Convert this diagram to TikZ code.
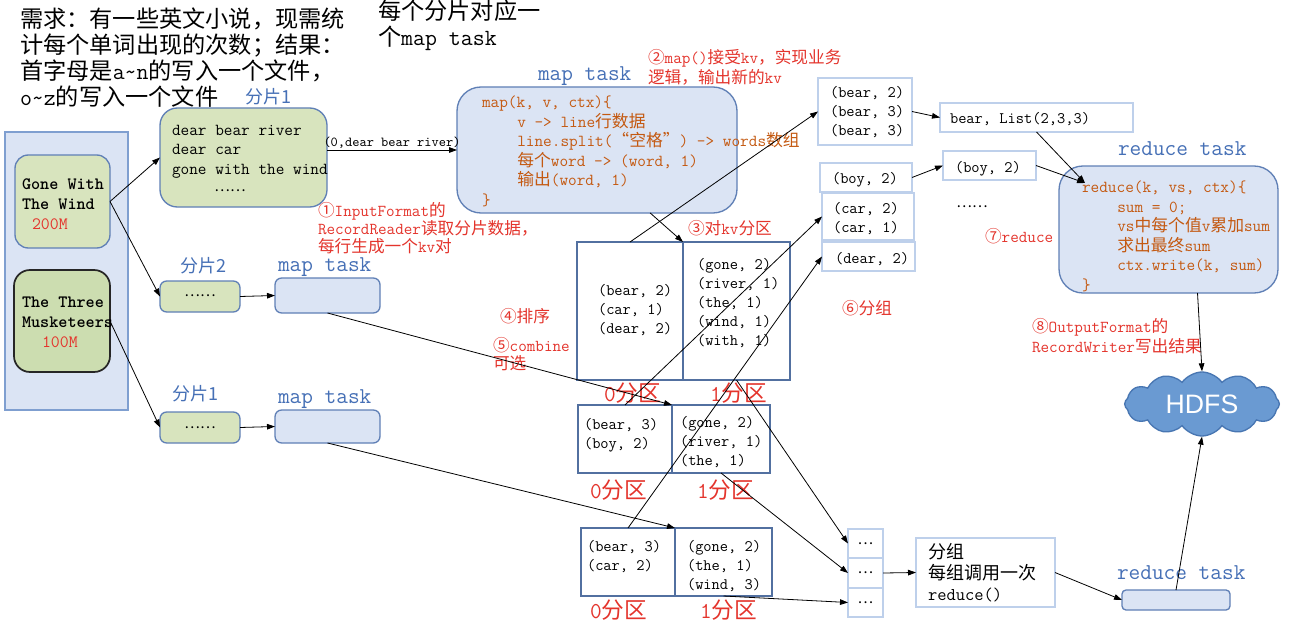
\documentclass[tikz,border=0pt]{standalone}
\usepackage{fontspec}
\newfontfamily\cjk{Noto Sans CJK SC}
\newfontfamily\hdfsfont{Liberation Sans}
\usetikzlibrary{arrows.meta,fit,shapes.symbols,calc}
\newcommand\zh[1]{{\cjk #1}}
\newcommand\ind{\hspace*{2.1em}}
\definecolor{lblue}{RGB}{70,112,182}
\definecolor{redc}{RGB}{228,52,44}
\definecolor{codec}{RGB}{196,89,17}
\definecolor{boxfill}{RGB}{219,228,244}
\definecolor{boxdraw}{RGB}{96,128,182}
\definecolor{contdraw}{RGB}{127,159,208}
\definecolor{greenfill}{RGB}{216,228,190}
\definecolor{greendark}{RGB}{204,221,176}
\definecolor{partdraw}{RGB}{82,112,160}
\definecolor{grpdraw}{RGB}{190,208,235}
\definecolor{cloudfill}{RGB}{106,154,210}
\definecolor{clouddraw}{RGB}{72,118,178}
\begin{document}
\begin{tikzpicture}[x=0.75pt,y=-0.75pt,
  arr/.style={draw=black, line width=0.6pt, -{Triangle[length=6pt,width=4.2pt]}},
  bx/.style={inner sep=0pt, outer sep=0pt},
  greenbox/.style={bx, fill=greenfill, draw=boxdraw, line width=1pt, rounded corners=8pt},
  mapbox/.style={bx, fill=boxfill, draw=boxdraw, line width=1pt, rounded corners=6pt},
  partbox/.style={bx, draw=partdraw, line width=1.1pt},
  grpbox/.style={bx, draw=grpdraw, line width=0.9pt},
  txt/.style={inner sep=0pt, outer sep=0pt, anchor=base west, align=left},
  codetxt/.style={txt, text=codec, font={\fontsize{12.6}{14.6}\selectfont\ttfamily}},
  kvtxt/.style={txt, font={\fontsize{12}{14.25}\selectfont\ttfamily}},
  redlab/.style={txt, text=redc, font={\fontsize{12.5}{13.5}\selectfont\ttfamily}},
  bluelab/.style={txt, text=lblue, font={\fontsize{17}{20}\selectfont\ttfamily}},
  bluezh/.style={txt, text=lblue, font={\fontsize{13.5}{16}\selectfont\ttfamily}},
  ptlab/.style={txt, text=redc, font={\fontsize{17}{20}\selectfont\ttfamily}},
  dotstxt/.style={inner sep=0pt, font={\fontsize{11}{12}\selectfont}},
]
\fill[white] (0,0) rectangle (1308,624);
\useasboundingbox (0,0) rectangle (1308,624);

% (multi-line text nodes are placed by the baseline of their LAST line)
% ---------- top-left texts
\node[txt, font={\fontsize{17.4}{19.5}\selectfont\ttfamily}] (req) at (20,106)
  {\zh{需求：有一些英文小说，现需统}\\\zh{计每个单词出现的次数；结果：}\\\zh{首字母是}a\textasciitilde n\zh{的写入一个文件，}\\o\textasciitilde z\zh{的写入一个文件}};
\node[txt, font={\fontsize{17.4}{19.5}\selectfont\ttfamily}] (permap) at (378,46)
  {\zh{每个分片对应一}\\\zh{个}map task};

% ---------- books container
\node[fit={(5,132) (128,410)}, bx, fill=boxfill, draw=contdraw, line width=1pt] (books) {};
\node[fit={(15,155) (110,248)}, greenbox, rounded corners=10pt] (gone) {};
\node[fit={(14,270) (110,372)}, greenbox, fill=greendark, draw=black!85, line width=1.3pt, rounded corners=12pt] (musk) {};
\node[txt, font={\fontsize{13}{15}\selectfont\ttfamily\bfseries}] (gonet) at (22,229)
  {Gone With\\The Wind\\\hspace*{7.5pt}\textcolor{redc}{\mdseries 200M}};
\node[txt, font={\fontsize{13}{15}\selectfont\ttfamily\bfseries}] (muskt) at (22,347)
  {The Three\\Musketeers\\\hspace*{15pt}\textcolor{redc}{\mdseries 100M}};

% ---------- splits
\node[fit={(160,108) (327,207)}, greenbox, rounded corners=13pt] (s1) {};
\node[fit={(160,281) (240,312)}, greenbox, rounded corners=5pt] (s2) {};
\node[fit={(160,412) (240,443)}, greenbox, rounded corners=5pt] (s3) {};
\node[bluezh] (s1lab) at (245,104) {\zh{分片1}};
\node[bluezh] (s2lab) at (180,272) {\zh{分片2}};
\node[bluezh] (s3lab) at (172,400) {\zh{分片1}};
\node[txt, font={\fontsize{12.6}{14.6}\selectfont\ttfamily}] (s1t) at (172,174)
  {dear bear river\\dear car\\gone with the wind};
\node[dotstxt] (s1d) at (230,191) {\zh{……}};
\node[dotstxt] (s2d) at (200,296) {\zh{……}};
\node[dotstxt] (s3d) at (200,428) {\zh{……}};

% ---------- map tasks
\node[fit={(457,87) (737,213)}, mapbox, rounded corners=18pt] (mapbig) {};
\node[fit={(275,278) (380,313)}, mapbox, rounded corners=5pt] (map2) {};
\node[fit={(275,410) (380,443)}, mapbox, rounded corners=5pt] (map3) {};
\node[bluelab] (mlab1) at (538,81) {map task};
\node[bluelab] (mlab2) at (278,271) {map task};
\node[bluelab] (mlab3) at (278,403) {map task};
\node[codetxt] (mapcode) at (482,205)
  {map(k, v, ctx)\{\\
   \ind v -> line\zh{行数据}\\
   \ind line.split(\zh{“空格”}) -> words\zh{数组}\\
   \ind\zh{每个}word -> (word, 1)\\
   \ind\zh{输出}(word, 1)\\
   \}};

% ---------- red annotations
\node[redlab] (n1) at (318,252) {\zh{①}InputFormat\zh{的}\\RecordReader\zh{读取分片数据，}\\\zh{每行生成一个}kv\zh{对}};
\node[redlab, font={\fontsize{12.5}{15}\selectfont\ttfamily}] (n2) at (648,84) {\zh{②}map()\zh{接受}kv\zh{，实现业务}\\\zh{逻辑，输出新的}kv};
\node[redlab] (n3) at (688,234) {\zh{③对}kv\zh{分区}};
\node[redlab] (n4) at (500,322) {\zh{④排序}};
\node[redlab] (n5) at (493,369) {\zh{⑤}combine\\\zh{可选}};
\node[redlab] (n6) at (842,314) {\zh{⑥分组}};
\node[redlab] (n7) at (985,242) {\zh{⑦}reduce};
\node[redlab, font={\fontsize{12.5}{15}\selectfont\ttfamily}] (n8) at (1032,352) {\zh{⑧}OutputFormat\zh{的}\\RecordWriter\zh{写出结果}};

% ---------- partitions
\node[fit={(577,242) (683,380)}, partbox] (p1l) {};
\node[fit={(683,242) (790,380)}, partbox] (p1r) {};
\node[fit={(578,405) (672,473)}, partbox] (p2l) {};
\node[fit={(672,405) (770,473)}, partbox] (p2r) {};
\node[fit={(581,528) (675,596)}, partbox] (p3l) {};
\node[fit={(675,528) (772,596)}, partbox] (p3r) {};
\node[kvtxt] (p1lt) at (598,333) {(bear, 2)\\(car, 1)\\(dear, 2)};
\node[kvtxt] (p1rt) at (697,345) {(gone, 2)\\(river, 1)\\(the, 1)\\(wind, 1)\\(with, 1)};
\node[kvtxt] (p2lt) at (584,448) {(bear, 3)\\(boy, 2)};
\node[kvtxt] (p2rt) at (680,465) {(gone, 2)\\(river, 1)\\(the, 1)};
\node[kvtxt] (p3lt) at (587,570) {(bear, 3)\\(car, 2)};
\node[kvtxt] (p3rt) at (687,589) {(gone, 2)\\(the, 1)\\(wind, 3)};
\node[ptlab] (l1a) at (604,401) {0\zh{分区}};
\node[ptlab] (l1b) at (710,401) {1\zh{分区}};
\node[ptlab] (l2a) at (590,498) {0\zh{分区}};
\node[ptlab] (l2b) at (697,498) {1\zh{分区}};
\node[ptlab] (l3a) at (590,618) {0\zh{分区}};
\node[ptlab] (l3b) at (700,618) {1\zh{分区}};

% ---------- grouping column
\node[fit={(818,78) (912,145)}, grpbox] (bear) {};
\node[fit={(820,163) (912,192)}, grpbox] (boy) {};
\node[fit={(822,193) (914,240)}, grpbox] (car) {};
\node[fit={(822,242) (915,271)}, grpbox] (dear) {};
\node[fit={(940,103) (1133,132)}, grpbox] (list) {};
\node[fit={(943,151) (1036,180)}, grpbox] (boy2) {};
\node[kvtxt] (beart) at (830,136) {(bear, 2)\\(bear, 3)\\(bear, 3)};
\node[kvtxt] (boyt) at (832,183) {(boy, 2)};
\node[kvtxt] (cart) at (833,232) {(car, 2)\\(car, 1)};
\node[kvtxt] (deart) at (835,263) {(dear, 2)};
\node[kvtxt] (listt) at (950,124) {bear, List(2,3,3)};
\node[kvtxt] (boy2t) at (955,172) {(boy, 2)};
\node[dotstxt] (gd) at (972,207) {\zh{……}};

% ---------- reduce task
\node[fit={(1059,166) (1278,293)}, mapbox, rounded corners=18pt] (reduce) {};
\node[bluelab] (rlab) at (1118,156) {reduce task};
\node[codetxt] (redcode) at (1082,290)
  {reduce(k, vs, ctx)\{\\
   \ind sum = 0;\\
   \ind vs\zh{中每个值}v\zh{累加}sum\\
   \ind\zh{求出最终}sum\\
   \ind ctx.write(k, sum)\\
   \}};

% ---------- bottom reduce path
\node[fit={(848,529) (883,558)}, grpbox] (d1) {};
\node[fit={(848,558) (883,588)}, grpbox] (d2) {};
\node[fit={(848,588) (883,617)}, grpbox] (d3) {};
\node[dotstxt] at (d1) {\zh{…}};
\node[dotstxt] at (d2) {\zh{…}};
\node[dotstxt] at (d3) {\zh{…}};
\node[fit={(916,538) (1055,607)}, grpbox] (grp) {};
\node[txt, font={\fontsize{13.5}{15.4}\selectfont\ttfamily}] (grpt) at (928,600)
  {\zh{分组}\\\zh{每组调用一次}\\reduce()};
\node[fit={(1122,590) (1230,610)}, mapbox, rounded corners=3pt] (rsmall) {};
\node[bluelab] (rlab2) at (1117,579) {reduce task};

% ---------- HDFS
\node[cloud, cloud puffs=12, cloud puff arc=110, aspect=2.4, fill=cloudfill, draw=clouddraw,
      line width=1pt, minimum width=116pt, minimum height=48pt, inner sep=0pt,
      text=white, font={\fontsize{20}{24}\selectfont\hdfsfont}] (cloud) at (1202,404) {HDFS};

% ---------- connectors
\draw[arr] (gone.east) -- (s1.west);
\draw[arr] (gone.east) -- (s2.west);
\draw[arr] (musk.east) -- (s3.west);
\draw[arr] (s1.east |- mapbig.west) -- node[above=1pt, inner sep=0pt, font={\fontsize{10.3}{12}\selectfont\ttfamily}] {(0,dear bear river)} (mapbig.west);
\draw[arr] (s2.east) -- (map2.west);
\draw[arr] (s3.east) -- (map3.west);
\draw[arr] ($(mapbig.south west)!0.69!(mapbig.south east)$) -- (p1r.north west);
\draw[arr] (map2.south) -- (p2l.north east);
\draw[arr] (map3.south) -- (p3l.north east);
\draw[arr] (p1l.north) -- (bear.west);
\draw[arr] (p2l.north) -- (car.west);
\draw[arr] (p3l.north) -- (dear.west);
\draw[arr] (bear.east) -- (list.west);
\draw[arr] (boy.east) -- (boy2.west);
\coordinate (rin) at ($(reduce.north west)+(26,17)$);
\draw[arr] (list.south) -- (rin);
\draw[arr] (boy2.east) -- (rin);
\draw[arr] ($(reduce.south)+(29,0)$) -- (cloud.north);
\draw[arr] (p1r.south) -- (d1.west);
\draw[arr] (p2r.south) -- (d2.west);
\draw[arr] (p3r.south) -- (d3.west);
\draw[arr] (d2.east) -- (grp.west);
\draw[arr] (grp.east) -- (rsmall.west);
\draw[arr] (rsmall.north) -- (cloud.south);
\end{tikzpicture}
\end{document}
